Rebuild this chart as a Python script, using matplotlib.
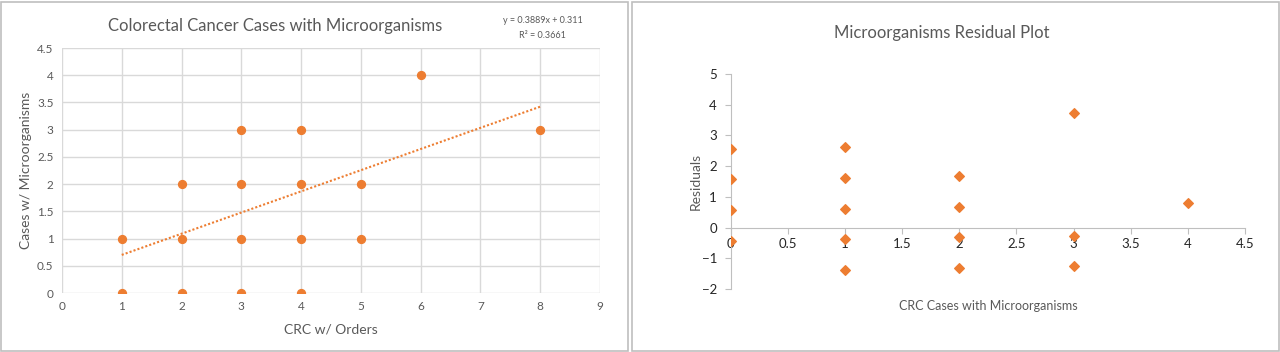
import numpy as np
import matplotlib.pyplot as plt
from matplotlib.patches import Rectangle

# left chart: CRC with orders vs cases with microorganisms
crc_orders = [1, 1, 2, 2, 2, 3, 3, 3, 3, 4, 4, 4, 4, 5, 5, 6, 8]
cases_micro = [0, 1, 0, 1, 2, 0, 1, 2, 3, 0, 1, 2, 3, 1, 2, 4, 3]
slope, intercept, r2 = 0.3889, 0.311, 0.3661

# right chart: residuals
res_x = [0, 0, 0, 0, 1, 1, 1, 1, 1, 2, 2, 2, 2, 3, 3, 3, 4]
res_y = [2.57, 1.57, 0.57, -0.43, 2.62, 1.62, 0.62, -0.38, -1.38,
         1.68, 0.68, -0.32, -1.32, 3.74, -0.26, -1.26, 0.80]

orange = '#ED7D31'
grey_txt = '#595959'
grid_c = '#D9D9D9'

plt.rcParams['font.family'] = ['Lato', 'DejaVu Sans']

fig = plt.figure(figsize=(12.8, 3.52), dpi=100)
fig.patches.append(Rectangle((0.001, 0.003), 0.490, 0.992, transform=fig.transFigure,
                             fill=False, ec='#BFBFBF', lw=1.2))
fig.patches.append(Rectangle((0.494, 0.003), 0.505, 0.992, transform=fig.transFigure,
                             fill=False, ec='#BFBFBF', lw=1.2))

# ---- left
ax1 = fig.add_axes([0.0484, 0.1676, 0.4203, 0.696])
ax1.scatter(crc_orders, cases_micro, s=32, color=orange, zorder=3)
xs = np.array([min(crc_orders), max(crc_orders)])
ax1.plot(xs, slope * xs + intercept, color=orange, ls=(0, (1, 1)), lw=1.5, zorder=2)
ax1.set_xlim(0, 9)
ax1.set_ylim(0, 4.5)
ax1.set_xticks(range(0, 10))
ax1.set_yticks(np.arange(0, 4.51, 0.5))
ax1.set_yticklabels(['0', '0.5', '1', '1.5', '2', '2.5', '3', '3.5', '4', '4.5'])
ax1.grid(True, color=grid_c, lw=1)
ax1.set_axisbelow(True)
for s in ax1.spines.values():
    s.set_visible(False)
ax1.tick_params(length=0, labelsize=8.5, colors=grey_txt, pad=6)
ax1.set_xlabel('CRC w/ Orders', fontsize=10, color=grey_txt, labelpad=8)
ax1.set_ylabel('Cases w/ Microorganisms', fontsize=10, color=grey_txt, labelpad=4)
fig.text(0.215, 0.925, 'Colorectal Cancer Cases with Microorganisms', ha='center', va='center',
         fontsize=12, color=grey_txt)
fig.text(0.424, 0.921, f'y = {slope}x + {intercept}\nR² = {r2}', ha='center', va='center',
         fontsize=6.5, color=grey_txt, linespacing=1.9)

# ---- right
ax2 = fig.add_axes([0.571, 0.179, 0.4016, 0.6108])
ax2.scatter(res_x, res_y, marker='D', s=24, color=orange, zorder=3)
ax2.set_xlim(0, 4.5)
ax2.set_ylim(-2, 5)
ax2.set_xticks(np.arange(0, 4.51, 0.5))
ax2.set_xticklabels(['0', '0.5', '1', '1.5', '2', '2.5', '3', '3.5', '4', '4.5'])
ax2.set_yticks(range(-2, 6))
ax2.spines['top'].set_visible(False)
ax2.spines['right'].set_visible(False)
ax2.spines['bottom'].set_position(('data', 0))
ax2.spines['left'].set_color('#BFBFBF')
ax2.spines['bottom'].set_color('#BFBFBF')
ax2.tick_params(axis='both', color='#BFBFBF', length=4, labelsize=9.5, labelcolor='#262626')
ax2.tick_params(axis='y', pad=6)
ax2.set_xlabel('CRC Cases with Microorganisms', fontsize=9, color=grey_txt)
ax2.xaxis.set_label_coords(0.5, -0.05)
ax2.set_ylabel('Residuals', fontsize=10, color=grey_txt, labelpad=0)
fig.text(0.736, 0.905, 'Microorganisms Residual Plot', ha='center', va='center',
         fontsize=12, color=grey_txt)

fig.savefig('out.png', dpi=100)
